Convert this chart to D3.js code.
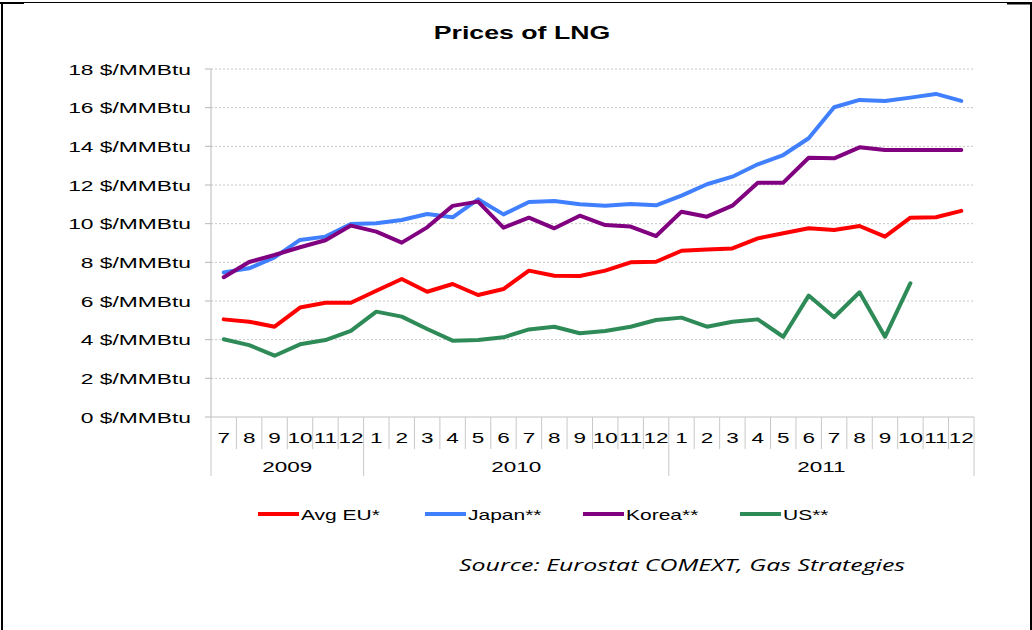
<!DOCTYPE html>
<html><head><meta charset="utf-8">
<script src="https://cdn.jsdelivr.net/npm/d3@7"></script>
<style>html,body{margin:0;padding:0;background:#fff;} svg{display:block;}</style>
</head><body>
<svg id="c" width="1032" height="630"></svg>
<script>
// ---- data ----
const months = ["7","8","9","10","11","12","1","2","3","4","5","6","7","8","9","10","11","12","1","2","3","4","5","6","7","8","9","10","11","12"];
const years = [{label:"2009", start:0, end:6},{label:"2010", start:6, end:18},{label:"2011", start:18, end:30}];
const yTicks = [0,2,4,6,8,10,12,14,16,18];
const avgEU = [5.05,4.93,4.67,5.66,5.91,5.91,6.53,7.14,6.48,6.88,6.31,6.62,7.57,7.31,7.29,7.57,8.0,8.03,8.6,8.67,8.72,9.24,9.5,9.76,9.67,9.88,9.33,10.31,10.33,10.66];
const japan = [7.48,7.69,8.26,9.16,9.33,9.98,10.02,10.19,10.5,10.33,11.26,10.48,11.12,11.17,11.0,10.93,11.02,10.95,11.45,12.04,12.43,13.07,13.55,14.42,16.02,16.4,16.35,16.52,16.71,16.35];
const korea = [7.23,8.02,8.38,8.78,9.14,9.9,9.59,9.02,9.81,10.92,11.14,9.79,10.31,9.76,10.41,9.93,9.85,9.36,10.62,10.36,10.93,12.12,12.12,13.41,13.38,13.95,13.81,13.81,13.81,13.81];
const us = [4.02,3.72,3.17,3.76,3.98,4.45,5.45,5.19,4.55,3.95,3.98,4.12,4.53,4.67,4.33,4.45,4.67,5.02,5.14,4.67,4.93,5.05,4.15,6.28,5.16,6.45,4.15,6.92,null,null];
const seriesNames = ["Avg EU*","Japan**","Korea**","US**"];
const seriesColors = ["#ff0000","#4080ff","#800080","#2e8b57"];
const seriesData = [avgEU, japan, korea, us];
const title = "Prices of LNG";
const source = "Source: Eurostat COMEXT, Gas Strategies";

// ---- drawing ----
const svg = d3.select("#c");
const SX = 1.5; // horizontal stretch of the original picture
const FONT = "'Liberation Sans', Arial, sans-serif";
function txt(g, x, y, s, size, anchor, opts={}) {
  return g.append("text")
    .attr("transform", `translate(${x},${y}) scale(${SX},1)`)
    .attr("text-anchor", anchor)
    .attr("font-family", opts.family || FONT)
    .attr("font-size", size)
    .attr("font-weight", opts.weight || "normal")
    .attr("font-style", opts.style || "normal")
    .attr("fill", opts.fill || "#000")
    .text(s);
}

// frame
svg.append("line").attr("x1",0).attr("x2",1032).attr("y1",2.5).attr("y2",2.5).attr("stroke","#000").attr("stroke-width",1);
svg.append("line").attr("x1",0).attr("x2",24).attr("y1",3).attr("y2",3).attr("stroke","#000").attr("stroke-width",2);
svg.append("line").attr("x1",1007).attr("x2",1032).attr("y1",3.5).attr("y2",3.5).attr("stroke","#000").attr("stroke-width",2);
svg.append("line").attr("x1",2).attr("x2",2).attr("y1",2).attr("y2",630).attr("stroke","#000").attr("stroke-width",2);
svg.append("line").attr("x1",1031).attr("x2",1031).attr("y1",3).attr("y2",630).attr("stroke","#000").attr("stroke-width",2);

const L = 211, R = 974, T = 69, B = 417;
const x = d3.scaleBand().domain(d3.range(months.length)).range([L, R]).padding(0);
const y = d3.scaleLinear().domain([0, 18]).range([B, T]);

// gridlines
svg.append("g").selectAll("line").data(yTicks.filter(d => d > 0)).join("line")
  .attr("x1", L).attr("x2", R).attr("y1", d => y(d)).attr("y2", d => y(d))
  .attr("stroke", "#c8c8c8").attr("stroke-width", 1).attr("stroke-dasharray", "2,2");

// y axis
svg.append("line").attr("x1", L).attr("x2", L).attr("y1", T).attr("y2", B).attr("stroke", "#b8b8b8");
svg.append("g").selectAll("line").data(yTicks).join("line")
  .attr("x1", L - 6).attr("x2", L).attr("y1", d => y(d)).attr("y2", d => y(d)).attr("stroke", "#b8b8b8");
const yl = svg.append("g");
yTicks.forEach(d => txt(yl, 191, y(d) + 5.5, `${d} $/MMBtu`, 15.2, "end"));

// x axis
svg.append("line").attr("x1", L).attr("x2", R).attr("y1", B).attr("y2", B).attr("stroke", "#c0c0c0");
const bounds = d3.range(months.length + 1);
const yearBounds = new Set(years.flatMap(v => [v.start, v.end]));
svg.append("g").selectAll("line").data(bounds).join("line")
  .attr("x1", i => i < months.length ? x(i) : R).attr("x2", i => i < months.length ? x(i) : R)
  .attr("y1", B).attr("y2", i => yearBounds.has(i) ? 476 : 449)
  .attr("stroke", "#c8c8c8");
const xl = svg.append("g");
months.forEach((m, i) => txt(xl, x(i) + x.bandwidth() / 2, 443, m, 15, "middle"));
years.forEach(v => {
  const a = x(v.start), b = v.end < months.length ? x(v.end) : R;
  txt(xl, (a + b) / 2, 472, v.label, 15, "middle");
});

// lines
const line = d3.line().defined(d => d != null)
  .x((d, i) => x(i) + x.bandwidth() / 2).y(d => y(d));
seriesData.forEach((s, k) => {
  svg.append("path").datum(s).attr("d", line)
    .attr("fill", "none").attr("stroke", seriesColors[k]).attr("stroke-width", 4)
    .attr("stroke-linejoin", "round").attr("stroke-linecap", "round");
});

// title
txt(svg, 522, 39, title, 17.8, "middle", {weight: "bold"});

// legend
const legX = [258, 425, 583, 740];
seriesNames.forEach((n, k) => {
  svg.append("line").attr("x1", legX[k]).attr("x2", legX[k] + 41).attr("y1", 514).attr("y2", 514)
    .attr("stroke", seriesColors[k]).attr("stroke-width", 4);
  txt(svg, legX[k] + 43, 519.5, n, 14, "start");
});

// source
txt(svg, 459, 571, source, 16.6, "start", {style: "italic", family: "'Open Sans', sans-serif"});
</script>
</body></html>
